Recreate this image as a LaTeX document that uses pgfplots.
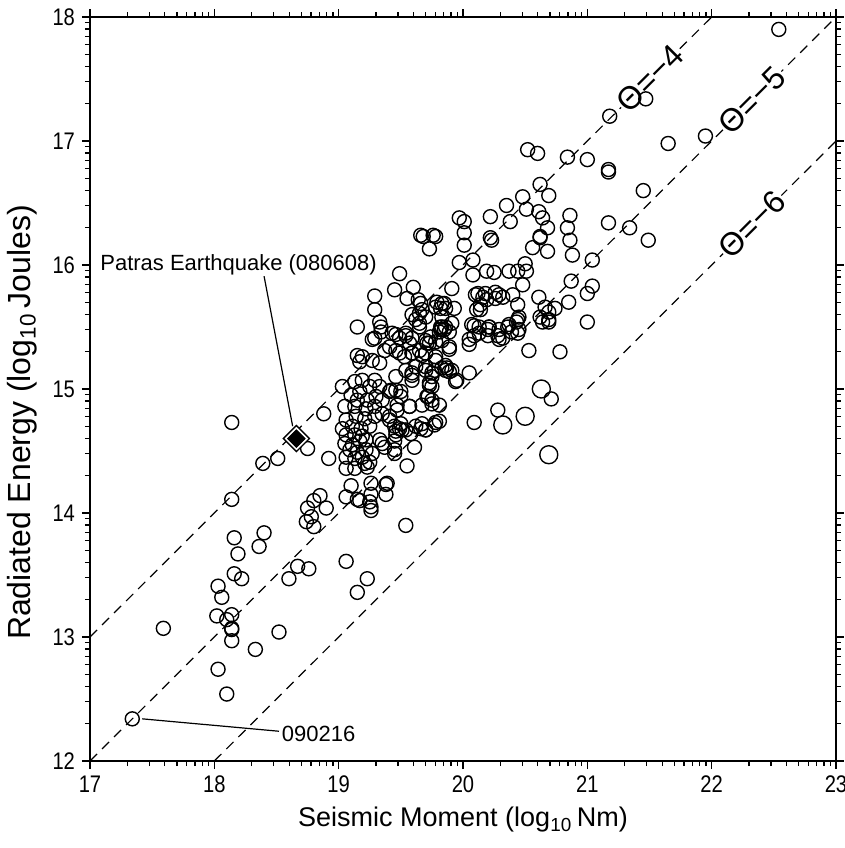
\documentclass[border=0pt]{standalone}
\usepackage{fontspec}
\setmainfont{Liberation Sans}
\usepackage{graphicx}
\usepackage{pgfplots}
\pgfplotsset{compat=1.18}

\begin{document}
\begin{tikzpicture}
\path[use as bounding box] (-45pt,-43.5pt) rectangle (377.5pt,380.5pt);
\begin{axis}[
  at={(0,0)}, anchor=south west,
  scale only axis, width=373pt, height=372pt,
  xmin=17, xmax=23, ymin=12, ymax=18,
  xtick={17,...,23}, ytick={12,...,18},
  minor xtick={17.301,17.477,17.602,17.699,17.778,17.845,17.903,17.954,
               18.301,18.477,18.602,18.699,18.778,18.845,18.903,18.954,
               19.301,19.477,19.602,19.699,19.778,19.845,19.903,19.954,
               20.301,20.477,20.602,20.699,20.778,20.845,20.903,20.954,
               21.301,21.477,21.602,21.699,21.778,21.845,21.903,21.954,
               22.301,22.477,22.602,22.699,22.778,22.845,22.903,22.954},
  minor ytick={12.301,12.477,12.602,12.699,12.778,12.845,12.903,12.954,
               13.301,13.477,13.602,13.699,13.778,13.845,13.903,13.954,
               14.301,14.477,14.602,14.699,14.778,14.845,14.903,14.954,
               15.301,15.477,15.602,15.699,15.778,15.845,15.903,15.954,
               16.301,16.477,16.602,16.699,16.778,16.845,16.903,16.954,
               17.301,17.477,17.602,17.699,17.778,17.845,17.903,17.954},
  tick align=outside,
  major tick length=4pt, minor tick length=2.5pt,
  every tick/.style={black, line width=0.8pt},
  every minor tick/.style={black, line width=0.6pt},
  axis line style={line width=1pt},
  ticklabel style={font=\fontsize{12}{13}\selectfont},
  /pgf/number format/assume math mode=true,
  xticklabel={\scalebox{0.84}[1]{\pgfmathprintnumber{\tick}}},
  yticklabel={\scalebox{0.84}[1]{\pgfmathprintnumber{\tick}}},
  xlabel={Seismic Moment (log\textsubscript{10}\,Nm)},
  ylabel={Radiated Energy (log\textsubscript{10}\,Joules)},
  xlabel style={font=\fontsize{13.5}{16}\selectfont, at={(axis description cs:0.5,-0.079)}, anchor=center},
  ylabel style={font=\fontsize{16}{18}\selectfont, at={(axis description cs:-0.091,0.455)}, anchor=center},
]
% Theta lines
\addplot[black, line width=0.6pt, dash pattern=on 5pt off 3.5pt] coordinates {(17,13) (22,18)};
\addplot[black, line width=0.6pt, dash pattern=on 5pt off 3.5pt] coordinates {(17,12) (23,18)};
\addplot[black, line width=0.6pt, dash pattern=on 5pt off 3.5pt] coordinates {(18,12) (23,17)};

% events
\addplot[only marks, mark=o, mark size=3.5pt, line width=0.7pt, black] coordinates {
(17.34,12.34) (17.59,13.07) (18.14,14.73) (18.14,14.11) (18.16,13.80) (18.40,13.84)
(18.36,13.73) (18.19,13.67) (18.16,13.51) (18.22,13.47) (18.03,13.41) (18.06,13.32)
(18.02,13.17) (18.14,13.18) (18.10,13.14) (18.14,13.07) (18.14,13.06) (18.14,12.97)
(18.52,13.04) (18.33,12.90) (18.03,12.74) (18.10,12.54) (18.67,13.57) (18.76,13.55)
(18.60,13.47) (19.06,13.61) (19.23,13.47) (19.15,13.36) (18.75,14.04) (18.80,14.10)
(18.85,14.14) (18.90,14.04) (18.74,13.93) (18.78,13.97) (18.80,13.89) (19.06,14.13)
(19.15,14.11) (19.25,14.09) (19.26,14.05) (19.26,14.15) (19.38,14.15) (19.38,14.23)
(19.26,14.24) (19.10,14.22) (19.17,14.10) (19.26,14.02) (19.54,13.90)
(18.75,14.52) (18.51,14.44) (18.39,14.40) (18.88,14.80) (18.92,14.44)
(19.15,15.50) (19.29,15.75) (19.29,15.64) (19.45,15.80) (19.49,15.93) (19.15,15.27) (19.27,15.40)
(19.97,16.38) (20.01,16.35) (20.01,16.26) (20.01,16.16) (19.66,16.24) (19.68,16.23)
(19.76,16.24) (19.78,16.23) (19.73,16.13) (19.97,16.02) (20.08,16.04) (20.08,15.92)
(19.60,15.82) (19.55,15.73) (19.64,15.72) (19.65,15.61) (19.59,15.60) (19.62,15.56)
(19.91,15.81) (19.79,15.70) (19.85,15.69) (19.86,15.65) (19.93,15.65) (19.82,15.65)
(20.10,15.76) (20.11,15.64) (20.07,15.52) (19.33,15.54) (19.34,15.50)
(20.52,16.93) (20.60,16.90) (20.84,16.87) (21.00,16.85) (21.17,16.77) (21.17,16.75)
(21.65,16.98) (21.45,16.60) (21.17,16.34) (21.34,16.30) (21.49,16.20) (20.62,16.65)
(20.69,16.56) (20.48,16.55) (20.35,16.48) (20.51,16.45) (20.61,16.43) (20.64,16.38)
(20.68,16.30) (20.62,16.23) (20.62,16.22) (20.56,16.14) (20.68,16.11) (20.22,16.39)
(20.38,16.35) (20.22,16.22) (20.23,16.20) (20.86,16.40) (20.84,16.30) (20.86,16.20)
(20.88,16.08) (21.04,16.04) (20.87,15.87) (21.04,15.83) (21.00,15.77) (20.85,15.70)
(21.00,15.54) (20.19,15.95) (20.25,15.94) (20.37,15.95) (20.44,15.95) (20.50,16.01)
(20.51,15.95) (20.48,15.84) (20.12,15.77) (20.16,15.74) (20.19,15.72) (20.26,15.73)
(20.29,15.76) (20.32,15.74) (20.40,15.76) (20.44,15.68) (20.14,15.64) (20.61,15.74)
(20.66,15.66) (20.69,15.62) (20.74,15.65) (20.62,15.58) (20.69,15.56) (20.44,15.56)
(20.21,15.50) (20.37,15.52) (20.45,15.48) (20.45,15.58)
(22.54,17.90) (21.18,17.20) (21.47,17.34) (21.95,17.04)
(20.53,15.31) (20.78,15.30) (20.28,14.83) (20.09,14.73) (20.71,14.92)
(20.05,15.13) (19.95,15.07) (19.89,15.32) (20.05,15.36) (20.09,15.43) (20.09,15.51)
(20.20,15.48) (20.20,15.43) (20.28,15.43) (20.32,15.41) (20.36,15.50) (20.44,15.45)
(20.43,15.54) (20.64,15.54) (20.69,15.54) (19.87,15.17) (19.89,15.14) (19.86,15.15)
(19.82,15.48) (19.83,15.50) (19.81,14.74) (19.81,14.87)
(19.78,14.73) (19.55,14.38) (19.39,14.24) (19.61,14.53) (19.45,14.48) (19.75,14.88)
(19.72,14.94) (19.67,14.72) (19.70,14.67) (19.49,14.68) (19.51,14.67) (19.46,14.66)
(19.41,14.78) (19.35,14.80) (19.47,14.83) (19.57,14.86) (19.50,14.98) (19.42,14.99)
(19.59,15.07) (19.73,15.05) (19.75,15.02) (19.94,15.06) (19.45,14.58) (19.45,14.51)
(19.35,14.56)
(19.03,15.02) (19.13,15.06) (19.19,15.07) (19.29,15.07) (19.33,15.02) (19.25,15.02)
(19.17,14.98) (19.10,14.95) (19.15,14.91) (19.23,14.91) (19.30,14.94) (19.35,14.91)
(19.05,14.86) (19.13,14.86) (19.22,14.84) (19.29,14.86) (19.06,14.75) (19.14,14.78)
(19.21,14.76) (19.29,14.78) (19.03,14.68) (19.11,14.70) (19.18,14.68) (19.25,14.70)
(19.06,14.63) (19.13,14.63) (19.19,14.62) (19.05,14.56) (19.11,14.55) (19.17,14.58)
(19.22,14.59) (19.09,14.51) (19.15,14.49) (19.22,14.51) (19.06,14.45) (19.13,14.44)
(19.19,14.45) (19.25,14.41) (19.06,14.36) (19.13,14.36) (19.21,14.40) (19.23,14.37)
(19.27,14.48) (19.33,14.59) (19.37,14.53) (19.41,14.75) (19.45,14.70) (19.46,14.63)
(19.50,14.72) (19.54,14.67) (19.58,14.64) (19.62,14.70) (19.66,14.68) (19.70,14.67)
(19.77,14.71) (19.41,14.98) (19.46,14.99) (19.50,14.94) (19.47,14.87) (19.57,14.86)
(19.67,14.87) (19.71,14.94) (19.75,14.91) (19.59,15.13) (19.62,15.18) (19.70,15.15)
(19.75,15.10) (19.73,15.03) (19.77,15.15) (19.83,15.17) (19.86,15.19) (19.78,15.23)
(19.67,15.27) (19.59,15.29) (19.53,15.26) (19.46,15.31) (19.37,15.31) (19.33,15.21)
(19.27,15.23) (19.19,15.26) (19.17,15.22) (19.29,15.41) (19.34,15.46) (19.43,15.45)
(19.49,15.41) (19.54,15.45) (19.59,15.41) (19.65,15.50) (19.71,15.37) (19.78,15.38)
(19.83,15.39) (19.86,15.50) (19.81,15.46)
(19.66,15.69) (19.67,15.64) (19.70,15.58) (19.65,15.53) (19.78,15.66) (19.83,15.69)
(19.83,15.58) (19.82,15.50) (19.85,15.48) (19.89,15.46) (19.91,15.53) (19.89,15.34)
(19.73,15.37) (19.70,15.29) (19.78,15.26) (19.91,15.15) (19.46,15.44) (19.54,15.43)
(19.57,15.37) (19.41,15.34) (19.49,15.29) (19.59,15.29) (19.65,15.31) (19.70,15.39)
(19.74,15.42) (19.54,15.15) (19.59,15.11) (19.46,15.10) (19.70,15.18) (19.75,15.13)
(20.05,15.40) (20.13,15.50) (20.21,15.50) (20.29,15.48) (20.39,15.46) (20.13,15.45)
(20.29,15.40) (20.18,15.77) (20.26,15.78) (20.14,15.68)
};
\addplot[only marks, mark=o, mark size=4.5pt, line width=0.7pt, black] coordinates {
(20.63,15.00) (20.32,14.71) (20.50,14.78) (20.69,14.47)
};

% Patras event
\addplot[only marks, mark=square*, mark size=4.6pt, mark options={rotate=45, fill=white, draw=black, line width=0.7pt}] coordinates {(18.66,14.60)};
\addplot[only marks, mark=square*, mark size=3.1pt, mark options={rotate=45, fill=black, draw=black}] coordinates {(18.66,14.60)};

% Theta labels
\node[rotate=45, anchor=west, fill=white, inner sep=0.5pt, font=\fontsize{16}{17}\selectfont] at (axis cs:21.27,17.27) {Θ=−4};
\node[rotate=45, anchor=west, fill=white, inner sep=0.5pt, font=\fontsize{16}{17}\selectfont] at (axis cs:22.09,17.09) {Θ=−5};
\node[rotate=45, anchor=west, fill=white, inner sep=0.5pt, font=\fontsize{16}{17}\selectfont] at (axis cs:22.09,16.09) {Θ=−6};

% annotations
\draw[line width=0.6pt] (axis cs:18.40,15.91) -- (axis cs:18.63,14.70);
\node[anchor=west, inner sep=0pt, font=\fontsize{11}{13}\selectfont] at (axis cs:17.08,16.00) {Patras Earthquake (080608)};
\draw[line width=0.6pt] (axis cs:17.42,12.34) -- (axis cs:18.52,12.24);
\node[anchor=west, inner sep=0pt, font=\fontsize{11}{13}\selectfont] at (axis cs:18.54,12.22) {090216};
\end{axis}
\end{tikzpicture}
\end{document}
